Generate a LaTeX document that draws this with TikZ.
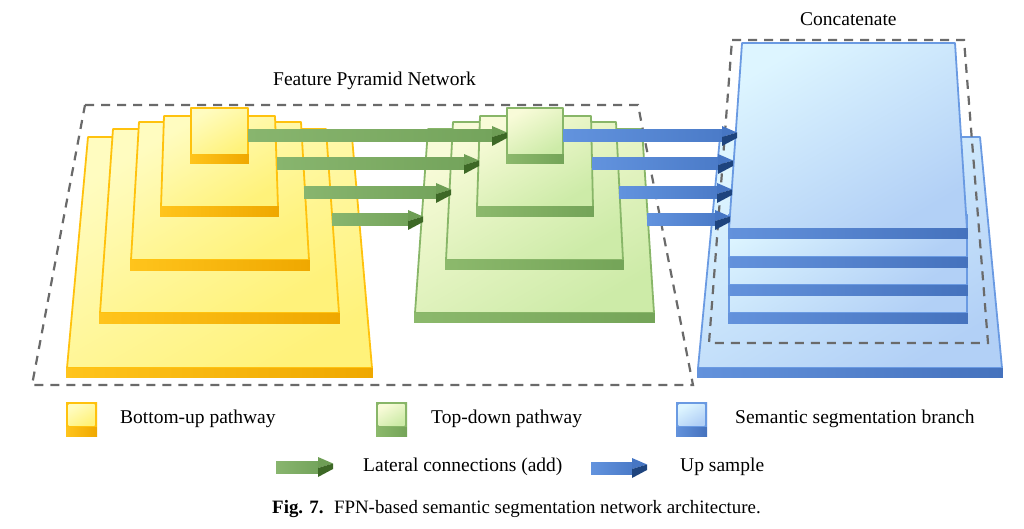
\documentclass[tikz,border=0pt]{standalone}
\usepackage{fontspec}
\setmainfont{Liberation Serif}
\definecolor{YfaceL}{HTML}{FFFCC0}
\definecolor{YfaceR}{HTML}{FFF27A}
\definecolor{Yborder}{HTML}{FFC20E}
\definecolor{YbandL}{HTML}{FFC41C}
\definecolor{YbandR}{HTML}{EFA800}
\definecolor{GfaceL}{HTML}{F8FBD8}
\definecolor{GfaceR}{HTML}{CDEBA8}
\definecolor{Gborder}{HTML}{88B668}
\definecolor{GbandL}{HTML}{8CB96C}
\definecolor{GbandR}{HTML}{74A458}
\definecolor{BfaceL}{HTML}{DDF5FF}
\definecolor{BfaceR}{HTML}{B2D0F6}
\definecolor{Bborder}{HTML}{6A9AE2}
\definecolor{BbandL}{HTML}{6392DC}
\definecolor{BbandR}{HTML}{4572BD}
\definecolor{GarrL}{HTML}{88B56E}
\definecolor{GarrR}{HTML}{74A45C}
\definecolor{GarrH}{HTML}{6E9E55}
\definecolor{GarrD}{HTML}{3D6826}
\definecolor{BarrL}{HTML}{6293DE}
\definecolor{BarrR}{HTML}{4B7BC8}
\definecolor{BarrH}{HTML}{4676C4}
\definecolor{BarrD}{HTML}{1E447E}
\definecolor{dashgray}{HTML}{6A6A6A}
% plate: tlx, trx, ty, blx, brx, by, band height, colour prefix
\newcommand\myplate[8]{%
  \path[draw=#8border, line width=1.8pt, line join=round, left color=#8faceL, right color=#8faceR, shading angle=30]
    (#1,#3) -- (#2,#3) -- (#5,#6) -- (#4,#6) -- cycle;
  \path[left color=#8bandL, right color=#8bandR] (#4-0.9,#6) rectangle (#5+0.9,#6+#7);
}
% block arrow: start x, tip x, top y of shaft, colour prefix
\newcommand\myarrow[4]{%
  \path[left color=#4arrL, right color=#4arrR] (#1,#3) rectangle (#2-15,#3+12);
  \fill[#4arrH] (#2-15,#3-4) -- (#2,#3+2.5) -- (#2-15,#3+7) -- cycle;
  \fill[#4arrD] (#2-15,#3+7) -- (#2,#3+2.5) -- (#2,#3+8) -- (#2-15,#3+16) -- cycle;
}
% legend icon: left x, colour prefix
\newcommand\myicon[2]{%
  \path[left color=#2bandL, right color=#2bandR] (#1,402) rectangle (#1+31,436);
  \fill[#2border] (#1,402) rectangle (#1+31,427);
  \path[left color=#2faceL, right color=#2faceR, shading angle=30] (#1+2.5,404.5) rectangle (#1+28.5,425);
}
\tikzset{
  lbl/.style={font=\fontsize{19.5}{22}\selectfont, inner sep=0pt, anchor=base west},
  captxt/.style={font=\fontsize{18.9}{21}\selectfont, inner sep=0pt, anchor=base west},
  dashbox/.style={draw=dashgray, line width=2.2pt, dash pattern=on 9pt off 7pt}
}
\begin{document}
\begin{tikzpicture}[x=1pt, y=-1pt]
\useasboundingbox (0,0) rectangle (1024,529);
% yellow bottom-up pyramid
\myplate{88}{352}{137}{67}{372}{368}{9}{Y}
\myplate{113}{326}{129}{100}{339}{313}{10}{Y}
\myplate{139}{301}{122}{131}{309}{260}{10}{Y}
\myplate{164}{275}{116}{161}{278}{207}{10}{Y}
\myplate{191}{248}{108}{191}{248}{155}{9}{Y}
% green top-down pyramid
\myplate{428}{642}{129}{415}{654}{313}{9}{G}
\myplate{453}{616}{122}{446}{623}{260}{9}{G}
\myplate{480}{591}{116}{477}{593}{207}{10}{G}
\myplate{507}{563}{108}{507}{563}{155}{9}{G}
% FPN dashed frame
\draw[dashbox] (85,105) -- (638,105) -- (693,385) -- (32,385) -- cycle;
% blue back plate
\myplate{720}{980}{137}{698}{1002}{368}{9}{B}
% concatenate dashed frame
\draw[dashbox] (732,40) -- (964,40) -- (988,343) -- (709,343) -- cycle;
% blue front stack
\myplate{729}{967}{215}{729}{967}{313}{10}{B}
\myplate{729}{967}{215}{729}{967}{285}{10}{B}
\myplate{729}{967}{215}{729}{967}{257}{10}{B}
\myplate{742}{955}{43}{729}{967}{229}{9}{B}
% lateral connections
\myarrow{248}{507}{130}{G}
\myarrow{277}{479}{158}{G}
\myarrow{304}{451}{187}{G}
\myarrow{332}{423}{214}{G}
% up sample
\myarrow{563}{737}{130}{B}
\myarrow{592}{733}{158}{B}
\myarrow{619}{732}{187}{B}
\myarrow{647}{730}{214}{B}
% titles
\node[lbl] (fpn) at (273,86) {Feature Pyramid Network};
\node[lbl] (concat) at (800,26) {Concatenate};
% legend
\myicon{66}{Y}
\myicon{376}{G}
\myicon{676}{B}
\node[lbl] (lbu) at (120,423) {Bottom-up pathway};
\node[lbl] (ltd) at (431,423) {Top-down pathway};
\node[lbl] (lss) at (735,423) {Semantic segmentation branch};
\myarrow{276}{333}{461}{G}
\myarrow{591}{647}{462}{B}
\node[lbl] (llat) at (363,471) {Lateral connections (add)};
\node[lbl] (lup) at (680,471) {Up sample};
% caption
\node[captxt] (caption) at (272,513) {\textbf{Fig. 7.}\hspace{0.55em}FPN-based semantic segmentation network architecture.};
\end{tikzpicture}
\end{document}
